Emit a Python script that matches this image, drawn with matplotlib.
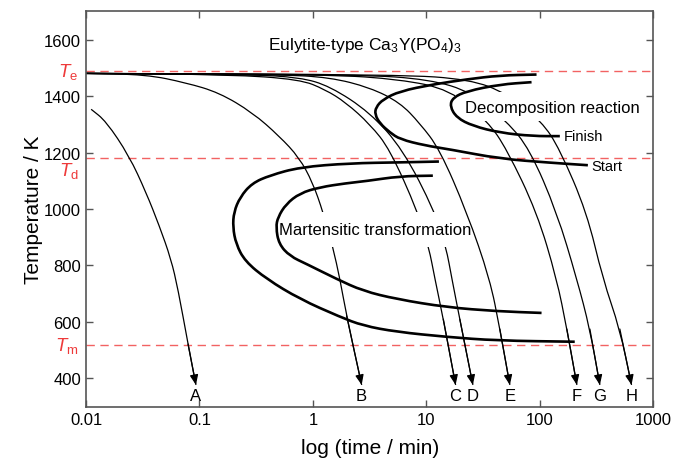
import numpy as np
import matplotlib.pyplot as plt
from matplotlib.patches import Rectangle, PathPatch
from matplotlib.path import Path
from matplotlib.transforms import blended_transform_factory

plt.rcParams['font.family'] = ['Liberation Sans', 'DejaVu Sans']
plt.rcParams['mathtext.fontset'] = 'custom'
plt.rcParams['mathtext.rm'] = 'Liberation Sans'
plt.rcParams['mathtext.it'] = 'Liberation Sans:italic'

# characteristic temperatures (K)
T_e, T_d, T_m = 1490, 1180, 520

# cooling paths: time (min), temperature (K)
a_t = [0.0111, 0.0150, 0.0240, 0.0338, 0.0443, 0.0561, 0.0647, 0.0793, 0.0931]
a_T = [1353, 1311, 1188, 1059, 940, 823, 716, 522, 377]
b_t = [0.01, 0.0338, 0.076, 0.149, 0.294, 0.505, 0.757, 0.994, 1.23, 1.50, 1.73, 1.98, 2.69]
b_T = [1480, 1476, 1447, 1412, 1341, 1258, 1182, 1094, 988, 864, 752, 622, 377]
c_t = [0.01, 0.186, 0.768, 1.28, 1.95, 3.18, 4.77, 8.41, 10.5, 11.9, 14.1, 18.1]
c_T = [1480, 1476, 1459, 1423, 1377, 1300, 1211, 989, 865, 752, 610, 377]
d_t = [0.01, 0.278, 0.768, 1.41, 3.18, 6.21, 11.9, 14.9, 16.8, 19.7, 25.7]
d_T = [1480, 1476, 1466, 1435, 1342, 1211, 989, 865, 752, 610, 377]
e_t = [0.01, 0.51, 1.41, 3.18, 5.84, 8.77, 13.1, 22.7, 36.3, 44.4, 54.4]
e_T = [1480, 1476, 1466, 1430, 1377, 1303, 1211, 989, 752, 575, 377]
f_t = [0.01, 1.41, 5.84, 16.1, 34.8, 51.2, 94.1, 141, 173, 212]
f_T = [1480, 1476, 1459, 1423, 1310, 1211, 989, 752, 575, 377]
g_t = [0.01, 2.59, 10.7, 25.2, 51.2, 81.6, 141, 212, 276, 338]
g_T = [1480, 1476, 1459, 1413, 1310, 1211, 989, 752, 575, 377]
h_t = [0.01, 5.84, 24.2, 51.2, 104, 150, 259, 359, 507, 643]
h_T = [1480, 1476, 1459, 1409, 1310, 1211, 989, 752, 575, 377]
path_names = ['A', 'B', 'C', 'D', 'E', 'F', 'G', 'H']

# decomposition reaction start / finish
dec_start_t = [93.5, 44.5, 22.6, 11.4, 5.85, 4.14, 3.59, 3.52, 3.89, 4.77, 5.85, 9.7, 16.1, 44.5, 122, 265]
dec_start_T = [1476, 1473, 1459, 1441, 1417, 1388, 1360, 1335, 1303, 1271, 1247, 1225, 1211, 1178, 1164, 1155]
dec_finish_t = [84.5, 44.5, 22.6, 17.1, 16.1, 18.5, 25.7, 44.5, 86.7, 150]
dec_finish_T = [1449, 1441, 1417, 1394, 1364, 1323, 1294, 1270, 1258, 1258]

# martensitic transformation (outer / inner)
mar_out_t = [12.9, 5.85, 2.12, 0.768, 0.418, 0.290, 0.228, 0.201, 0.197, 0.210, 0.252,
             0.391, 0.768, 1.73, 2.76, 5.46, 15.1, 41.6, 203]
mar_out_T = [1168, 1165, 1162, 1148, 1119, 1091, 1042, 989, 936, 876, 815,
             752, 681, 618, 587, 565, 547, 534, 530]
mar_in_t = [11.4, 5.85, 2.97, 1.95, 1.15, 0.768, 0.578, 0.492, 0.472, 0.501, 0.627,
            0.881, 1.62, 2.76, 5.46, 15.1, 41.6, 103.5]
mar_in_T = [1118, 1116, 1099, 1091, 1077, 1056, 1017, 971, 936, 876, 833,
            805, 752, 710, 681, 652, 638, 632]


def smooth_line(ax, t, T, **kw):
    # quadratic bezier through the midpoints (midpoints taken in log time)
    def mid(i):
        return (np.sqrt(t[i] * t[i + 1]), (T[i] + T[i + 1]) / 2)
    verts = [(t[0], T[0]), mid(0)]
    codes = [Path.MOVETO, Path.LINETO]
    for i in range(1, len(t) - 1):
        verts += [(t[i], T[i]), mid(i)]
        codes += [Path.CURVE3, Path.CURVE3]
    verts.append((t[-1], T[-1]))
    codes.append(Path.LINETO)
    ax.add_patch(PathPatch(Path(verts, codes), fill=False, **kw))


fig, ax = plt.subplots(figsize=(6.74, 4.6), dpi=100)
fig.subplots_adjust(left=0.1276, right=0.9693, bottom=0.1137, top=0.9733)

ax.set_xscale('log')
ax.set_xlim(0.01, 1000)
ax.set_ylim(300, 1700)

for T in (T_e, T_d, T_m):
    ax.axhline(T, color='#f26262', lw=1.0, ls=(0, (6, 4)), zorder=1)

paths = [(a_t, a_T), (b_t, b_T), (c_t, c_T), (d_t, d_T),
         (e_t, e_T), (f_t, f_T), (g_t, g_T), (h_t, h_T)]
for (tt, TT), name in zip(paths, path_names):
    smooth_line(ax, tt, TT, edgecolor='k', lw=0.9, zorder=2)
    ax.annotate('', xy=(tt[-1], TT[-1]), xytext=(tt[-2], TT[-2]),
                arrowprops=dict(arrowstyle='-|>,head_length=0.6,head_width=0.25',
                                color='k', lw=0.9, shrinkA=0, shrinkB=0,
                                mutation_scale=10), zorder=2)
    ax.text(tt[-1], 340, name, ha='center', va='center', fontsize=12, zorder=5)

# white masks where the labels interrupt the cooling paths
ax.add_patch(Rectangle((0.94, 865), 21.5 - 0.94, 989 - 865, facecolor='white',
                       edgecolor='none', zorder=3))
ax.add_patch(Rectangle((17.8, 1310), 841 - 17.8, 1413 - 1310, facecolor='white',
                       edgecolor='none', zorder=3))

for tt, TT in [(dec_start_t, dec_start_T), (dec_finish_t, dec_finish_T),
               (mar_out_t, mar_out_T), (mar_in_t, mar_in_T)]:
    smooth_line(ax, tt, TT, edgecolor='k', lw=1.9, zorder=4, capstyle='butt')

ax.text(2.87, 1582, r'Eulytite-type Ca$_3$Y(PO$_4$)$_3$', ha='center', va='center', fontsize=12.5)
ax.text(3.52, 929, 'Martensitic transformation', ha='center', va='center', fontsize=12, zorder=5)
ax.text(130, 1360, 'Decomposition reaction', ha='center', va='center', fontsize=12, zorder=5)
ax.text(162, 1258, 'Finish', ha='left', va='center', fontsize=10.5, zorder=5)
ax.text(283, 1153, 'Start', ha='left', va='center', fontsize=10.5, zorder=5)

trans = blended_transform_factory(ax.transAxes, ax.transData)
for lab, yy in [(r'$\mathit{T}_\mathrm{e}$', 1488), (r'$\mathit{T}_\mathrm{d}$', 1138),
                (r'$\mathit{T}_\mathrm{m}$', 518)]:
    ax.text(-0.013, yy, lab, transform=trans, ha='right', va='center',
            color='#ee3a3a', fontsize=13.5, clip_on=False)

ax.set_xticks([0.01, 0.1, 1, 10, 100, 1000])
ax.set_xticklabels(['0.01', '0.1', '1', '10', '100', '1000'])
ax.minorticks_off()
ax.set_yticks([400, 600, 800, 1000, 1200, 1400, 1600])
ax.tick_params(direction='in', which='both', top=True, right=True, labelsize=12,
               length=5, width=1, color='#555555')
for s in ax.spines.values():
    s.set_color('#555555')
    s.set_linewidth(1.2)

ax.set_xlabel('log (time / min)', fontsize=15, labelpad=8)
ax.set_ylabel('Temperature / K', fontsize=15, labelpad=1)

fig.savefig('out.png', dpi=100)
